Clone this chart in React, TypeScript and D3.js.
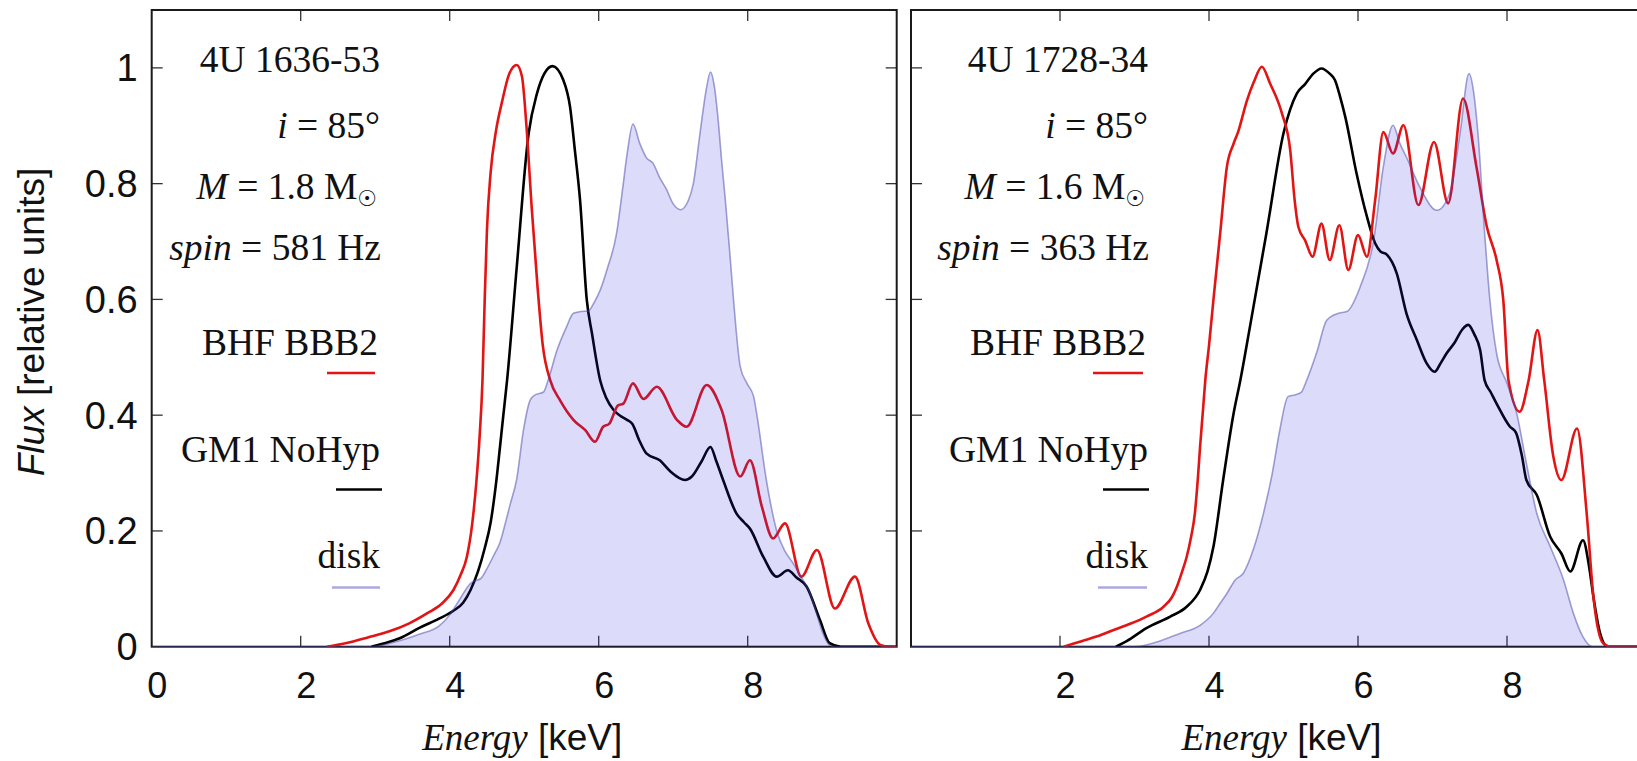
import React from 'react';
import * as d3 from 'd3';

type Pt = [number, number];

// Axis ticks
const energyTicks = [0, 2, 4, 6, 8];
const fluxTicks = [0, 0.2, 0.4, 0.6, 0.8, 1];
const fluxTickLabels = ['0', '0.2', '0.4', '0.6', '0.8', '1'];

// 4U 1636-53 spectra: [energy keV, relative flux]
const bhf1636: Pt[] = [
  [2.35, 0], [2.6, 0.006], [2.9, 0.016], [3.2, 0.027], [3.45, 0.04], [3.7, 0.058], [3.9, 0.075],
  [4.05, 0.098], [4.15, 0.125], [4.23, 0.155], [4.3, 0.21], [4.36, 0.288], [4.4, 0.36], [4.44, 0.46],
  [4.47, 0.6], [4.5, 0.72], [4.55, 0.82], [4.62, 0.89], [4.7, 0.94], [4.8, 0.99], [4.9, 1.005],
  [4.97, 0.985], [5.03, 0.9], [5.1, 0.76], [5.18, 0.62], [5.25, 0.52], [5.35, 0.46], [5.48, 0.426],
  [5.66, 0.392], [5.82, 0.374], [5.95, 0.354], [6.06, 0.38], [6.14, 0.385], [6.26, 0.417],
  [6.33, 0.42], [6.46, 0.455], [6.6, 0.428], [6.78, 0.449], [7.05, 0.392], [7.18, 0.38],
  [7.45, 0.452], [7.65, 0.409], [7.9, 0.294], [8.03, 0.322], [8.19, 0.242], [8.34, 0.187],
  [8.5, 0.213], [8.72, 0.121], [8.93, 0.167], [9.17, 0.066], [9.44, 0.121], [9.62, 0.04],
  [9.78, 0.003], [9.9, 0], [10, 0],
];
const gm1636: Pt[] = [
  [2.95, 0], [3.1, 0.005], [3.33, 0.0145], [3.6, 0.033], [3.85, 0.048], [4.05, 0.062], [4.18, 0.076],
  [4.28, 0.098], [4.38, 0.13], [4.47, 0.17], [4.55, 0.215], [4.62, 0.28], [4.675, 0.345], [4.72, 0.4],
  [4.77, 0.46], [4.9, 0.656], [5.06, 0.887], [5.17, 0.955], [5.27, 0.99], [5.38, 1.003],
  [5.525, 0.979], [5.615, 0.933], [5.68, 0.858], [5.75, 0.771], [5.84, 0.599], [5.91, 0.541],
  [6.02, 0.46], [6.1, 0.43], [6.2, 0.409], [6.3, 0.398], [6.38, 0.392], [6.45, 0.385],
  [6.55, 0.355], [6.64, 0.334], [6.82, 0.322], [6.96, 0.303], [7.16, 0.288], [7.25, 0.294],
  [7.38, 0.32], [7.5, 0.345], [7.58, 0.32], [7.67, 0.288], [7.85, 0.23], [7.95, 0.215],
  [8.03, 0.204], [8.21, 0.155], [8.39, 0.121], [8.54, 0.132], [8.65, 0.12], [8.79, 0.104],
  [8.97, 0.046], [9.1, 0.006], [9.25, 0], [10, 0],
];
const disk1636: Pt[] = [
  [0, 0], [2.95, 0], [3.2, 0.006], [3.6, 0.022], [3.85, 0.035], [4.0, 0.055], [4.15, 0.085],
  [4.25, 0.105], [4.32, 0.113], [4.41, 0.117], [4.5, 0.135], [4.6, 0.16], [4.675, 0.18],
  [4.75, 0.215], [4.81, 0.245], [4.9, 0.29], [4.99, 0.374], [5.08, 0.426], [5.145, 0.435],
  [5.26, 0.44], [5.32, 0.46], [5.44, 0.512], [5.57, 0.553], [5.66, 0.576], [5.76, 0.579],
  [5.86, 0.58], [5.94, 0.595], [6.02, 0.616], [6.12, 0.655], [6.24, 0.714], [6.32, 0.79],
  [6.38, 0.85], [6.46, 0.903], [6.55, 0.87], [6.64, 0.845], [6.73, 0.835], [6.82, 0.81],
  [6.91, 0.79], [7.0, 0.765], [7.1, 0.755], [7.2, 0.77], [7.27, 0.8], [7.36, 0.887],
  [7.44, 0.96], [7.5, 0.993], [7.55, 0.97], [7.6, 0.915], [7.65, 0.84], [7.7, 0.771],
  [7.76, 0.68], [7.81, 0.599], [7.9, 0.484], [7.99, 0.455], [8.08, 0.432], [8.12, 0.403],
  [8.25, 0.288], [8.39, 0.2], [8.5, 0.165], [8.61, 0.144], [8.72, 0.12], [8.84, 0.092],
  [8.93, 0.055], [9.01, 0.023], [9.1, 0.003], [9.2, 0], [10, 0],
];

// 4U 1728-34 spectra: [energy keV, relative flux]
const bhf1728: Pt[] = [
  [2.05, 0], [2.3, 0.01], [2.5, 0.018], [2.72, 0.029], [2.95, 0.04], [3.16, 0.052], [3.39, 0.069],
  [3.5, 0.085], [3.57, 0.104], [3.64, 0.13], [3.7, 0.155], [3.76, 0.19], [3.81, 0.23], [3.85, 0.29],
  [3.88, 0.345], [3.92, 0.41], [3.95, 0.46], [4.0, 0.52], [4.06, 0.6], [4.15, 0.714], [4.24, 0.829],
  [4.33, 0.869], [4.39, 0.889], [4.51, 0.944], [4.6, 0.975], [4.71, 1.002], [4.82, 0.973],
  [4.98, 0.921], [5.09, 0.858], [5.15, 0.771], [5.2, 0.725], [5.29, 0.702], [5.39, 0.674],
  [5.51, 0.731], [5.62, 0.668], [5.75, 0.728], [5.87, 0.651], [6.0, 0.711], [6.12, 0.674],
  [6.23, 0.771], [6.34, 0.889], [6.47, 0.852], [6.61, 0.901], [6.81, 0.763], [7.02, 0.872],
  [7.21, 0.766], [7.41, 0.947], [7.59, 0.829], [7.73, 0.725], [7.86, 0.668], [7.95, 0.599],
  [8.02, 0.46], [8.17, 0.406], [8.29, 0.46], [8.41, 0.547], [8.5, 0.46], [8.62, 0.33],
  [8.73, 0.288], [8.94, 0.377], [9.07, 0.23], [9.16, 0.086], [9.29, 0.006], [9.4, 0], [10, 0],
];
const gm1728: Pt[] = [
  [2.75, 0], [2.9, 0.01], [3.16, 0.032], [3.48, 0.052], [3.7, 0.069], [3.88, 0.098], [3.98, 0.13],
  [4.06, 0.173], [4.19, 0.288], [4.33, 0.403], [4.42, 0.46], [4.55, 0.553], [4.77, 0.714],
  [5.0, 0.887], [5.18, 0.956], [5.29, 0.972], [5.4, 0.99], [5.51, 0.999], [5.62, 0.99],
  [5.69, 0.979], [5.76, 0.95], [5.83, 0.915], [5.98, 0.818], [6.12, 0.743], [6.23, 0.697],
  [6.3, 0.683], [6.39, 0.677], [6.52, 0.645], [6.65, 0.576], [6.79, 0.53], [6.92, 0.49],
  [7.03, 0.475], [7.11, 0.49], [7.19, 0.507], [7.3, 0.526], [7.4, 0.548], [7.48, 0.556],
  [7.56, 0.54], [7.64, 0.512], [7.7, 0.46], [7.78, 0.44], [7.86, 0.42], [8.04, 0.38],
  [8.12, 0.37], [8.2, 0.33], [8.26, 0.288], [8.4, 0.262], [8.58, 0.19], [8.73, 0.161],
  [8.85, 0.13], [9.02, 0.184], [9.1, 0.14], [9.16, 0.086], [9.25, 0.023], [9.35, 0], [10, 0],
];
const disk1728: Pt[] = [
  [0, 0], [3.0, 0], [3.3, 0.008], [3.61, 0.023], [3.88, 0.037], [4.06, 0.058], [4.15, 0.075],
  [4.24, 0.092], [4.35, 0.115], [4.46, 0.127], [4.6, 0.17], [4.73, 0.23], [4.85, 0.3],
  [4.95, 0.374], [5.06, 0.432], [5.15, 0.435], [5.24, 0.44], [5.31, 0.46], [5.45, 0.51],
  [5.58, 0.564], [5.74, 0.576], [5.85, 0.579], [6.03, 0.622], [6.21, 0.702], [6.34, 0.829],
  [6.47, 0.901], [6.56, 0.87], [6.65, 0.846], [6.83, 0.794], [7.06, 0.754], [7.23, 0.783],
  [7.37, 0.887], [7.49, 0.99], [7.55, 0.96], [7.61, 0.887], [7.7, 0.714], [7.77, 0.599],
  [7.86, 0.507], [8.0, 0.455], [8.13, 0.403], [8.26, 0.317], [8.4, 0.23], [8.58, 0.173],
  [8.76, 0.115], [8.89, 0.058], [9.02, 0.017], [9.15, 0], [10, 0],
];

const sources = ['4U 1636-53', '4U 1728-34'];
const masses = ['1.8', '1.6'];
const spins = ['581', '363'];
const inclination = '85';
const seriesNames = ['BHF BBB2', 'GM1 NoHyp', 'disk'];

const W = 1637;
const H = 761;
const SANS = "'Liberation Sans', Arial, Helvetica, sans-serif";
const SERIF = "'Liberation Serif', 'Times New Roman', Times, serif";
const RED = '#e31414';
const DISK_FILL = 'rgba(40, 40, 225, 0.165)';
const DISK_STROKE = 'rgba(70, 70, 170, 0.5)';
const DISK_KEY = '#aaaae2';

const y = d3.scaleLinear().domain([0, 1.1]).range([646.7, 10]);

type PanelProps = {
  idx: number;
  left: number;
  bhf: Pt[];
  gm: Pt[];
  disk: Pt[];
  textRight: number;
  keyLines: [number, number][];
  showYLabels: boolean;
  xLabels: number[];
};

function Panel({ idx, left, bhf, gm, disk, textRight, keyLines, showYLabels, xLabels }: PanelProps) {
  const x = d3.scaleLinear().domain([0, 10]).range([left, left + 745]);
  const [y0, y1] = y.range();
  const line = d3.line<Pt>().x((d) => x(d[0])).y((d) => y(d[1])).curve(d3.curveMonotoneX);
  const area = d3.area<Pt>().x((d) => x(d[0])).y0(y(0)).y1((d) => y(d[1])).curve(d3.curveMonotoneX);
  const clipId = `plot-clip-${idx}`;
  const tickLen = 11;
  const baselines = [72, 138, 199, 260, 355, 462, 568];
  const keyY = [373, 489.5, 587.5];

  return (
    <g>
      <defs>
        <clipPath id={clipId}>
          <rect x={x(0)} y={y1} width={x(10) - x(0)} height={y0 - y1} />
        </clipPath>
      </defs>
      {/* tick marks on all four sides, pointing inward */}
      {energyTicks.filter((t) => t > 0).map((t) => (
        <g key={`xt${t}`} stroke="#333" strokeWidth={1.3}>
          <line x1={x(t)} x2={x(t)} y1={y0} y2={y0 - tickLen} />
          <line x1={x(t)} x2={x(t)} y1={y1} y2={y1 + tickLen} />
        </g>
      ))}
      {fluxTicks.filter((t) => t > 0).map((t) => (
        <g key={`yt${t}`} stroke="#333" strokeWidth={1.3}>
          <line x1={x(0)} x2={x(0) + tickLen} y1={y(t)} y2={y(t)} />
          <line x1={x(10)} x2={x(10) - tickLen} y1={y(t)} y2={y(t)} />
        </g>
      ))}
      <rect x={x(0)} y={y1} width={x(10) - x(0)} height={y0 - y1} fill="none" stroke="#1a1a1a" strokeWidth={2} />

      <g clipPath={`url(#${clipId})`}>
        <path d={line(gm) ?? ''} fill="none" stroke="#000" strokeWidth={2.6} strokeLinejoin="round" />
        <path d={line(bhf) ?? ''} fill="none" stroke={RED} strokeWidth={2.6} strokeLinejoin="round" />
        <path d={area(disk) ?? ''} fill={DISK_FILL} stroke="none" />
        <path d={line(disk) ?? ''} fill="none" stroke={DISK_STROKE} strokeWidth={1.6} />
      </g>

      {/* tick labels */}
      {showYLabels && fluxTicks.map((t, i) => (
        <text key={`yl${t}`} x={x(0) - 14} y={y(t) + 13.5} textAnchor="end" fontFamily={SANS} fontSize={38} fill="#111">
          {fluxTickLabels[i]}
        </text>
      ))}
      {xLabels.map((t) => (
        <text key={`xl${t}`} x={x(t) + 5.5} y={698} textAnchor="middle" fontFamily={SANS} fontSize={36} fill="#111">
          {t}
        </text>
      ))}

      {/* axis title */}
      <text x={x(5) - 2} y={750} textAnchor="middle" fill="#111" fontSize={37}>
        <tspan fontFamily={SERIF} fontStyle="italic">Energy</tspan>
        <tspan fontFamily={SANS}> [keV]</tspan>
      </text>

      {/* annotations */}
      <g fontFamily={SERIF} fontSize={37.5} fill="#111" textAnchor="end">
        <text x={textRight} y={baselines[0]}>{sources[idx]}</text>
        <text x={textRight} y={baselines[1]}>
          <tspan fontStyle="italic">i</tspan> = {inclination}°
        </text>
        <text x={textRight - 3} y={baselines[2]}>
          <tspan fontStyle="italic">M</tspan> = {masses[idx]} M
          <tspan fontFamily="'DejaVu Sans', sans-serif" fontSize={22} dy={7}>☉</tspan>
        </text>
        <text x={textRight + 1} y={baselines[3]}>
          <tspan fontStyle="italic">spin</tspan> = {spins[idx]} Hz
        </text>
        <text x={textRight - 2} y={baselines[4]}>{seriesNames[0]}</text>
        <text x={textRight} y={baselines[5]}>{seriesNames[1]}</text>
        <text x={textRight} y={baselines[6]}>{seriesNames[2]}</text>
      </g>

      {/* legend keys */}
      <line x1={keyLines[0][0]} x2={keyLines[0][1]} y1={keyY[0]} y2={keyY[0]} stroke={RED} strokeWidth={2.6} />
      <line x1={keyLines[1][0]} x2={keyLines[1][1]} y1={keyY[1]} y2={keyY[1]} stroke="#000" strokeWidth={2.6} />
      <line x1={keyLines[2][0]} x2={keyLines[2][1]} y1={keyY[2]} y2={keyY[2]} stroke={DISK_KEY} strokeWidth={2.6} />
    </g>
  );
}

export default function App() {
  return (
    <svg
      width={W}
      height={H}
      viewBox={`0 0 ${W} ${H}`}
      style={{ position: 'absolute', left: 0, top: 0, background: '#fff' }}
    >
      <rect x={0} y={0} width={W} height={H} fill="#fff" />
      <text
        transform="translate(44, 322) rotate(-90)"
        textAnchor="middle"
        fontFamily={SANS}
        fontSize={37}
        fill="#111"
      >
        <tspan fontStyle="italic">Flux</tspan> [relative units]
      </text>
      <Panel
        idx={0}
        left={151.7}
        bhf={bhf1636}
        gm={gm1636}
        disk={disk1636}
        textRight={380}
        keyLines={[[327, 375], [336, 382], [332, 380]]}
        showYLabels
        xLabels={[0, 2, 4, 6, 8]}
      />
      <Panel
        idx={1}
        left={911}
        bhf={bhf1728}
        gm={gm1728}
        disk={disk1728}
        textRight={1148}
        keyLines={[[1093, 1143], [1103, 1149], [1098, 1147]]}
        showYLabels={false}
        xLabels={[2, 4, 6, 8]}
      />
    </svg>
  );
}
